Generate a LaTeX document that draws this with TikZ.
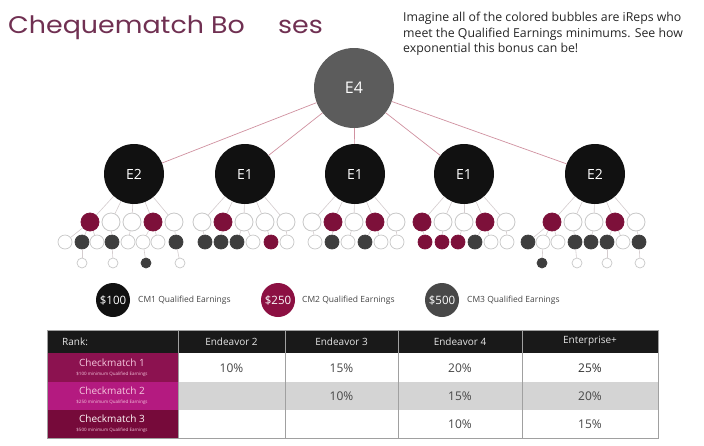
\documentclass[tikz,border=0pt]{standalone}
\usepackage{fontspec}
\setmainfont{Open Sans}
\newfontfamily\titlefont{Poppins}
\definecolor{mar}{RGB}{125,16,58}
\definecolor{dkg}{RGB}{62,62,62}
\definecolor{ink}{RGB}{17,17,17}
\definecolor{e4g}{RGB}{92,92,92}
\definecolor{ring}{RGB}{200,200,200}
\definecolor{lline}{RGB}{212,204,206}
\definecolor{pline}{RGB}{208,145,160}
\definecolor{titlec}{RGB}{112,48,82}
\definecolor{rk1}{RGB}{140,18,80}
\definecolor{rk2}{RGB}{180,26,128}
\definecolor{rk3}{RGB}{118,10,58}
\definecolor{rowg}{RGB}{212,212,212}
\definecolor{hdr}{RGB}{25,25,25}
\definecolor{tabline}{RGB}{160,160,160}
\definecolor{valc}{RGB}{70,70,70}
\definecolor{rktxt}{RGB}{245,200,222}
\definecolor{legm}{RGB}{140,16,66}
\definecolor{legg}{RGB}{72,72,72}
\tikzset{
  bigc/.style={circle, inner sep=0pt, minimum size=60pt, fill=ink, text=white, font=\fontsize{14}{16}\selectfont},
  topc/.style={circle, inner sep=0pt, minimum size=80pt, fill=e4g, text=white, font=\fontsize{16}{18}\selectfont},
  lb/.style={circle, inner sep=0pt, minimum size=18pt, line width=0.8pt},
  lc/.style={circle, inner sep=0pt, minimum size=14pt, line width=0.7pt},
  ld/.style={circle, inner sep=0pt, minimum size=10pt, line width=0.7pt},
  tl/.style={draw=lline, line width=0.6pt},
  pl/.style={draw=pline, line width=0.7pt},
  legc/.style={circle, inner sep=0pt, minimum size=34pt, text=white, font=\fontsize{11.5}{13}\selectfont},
  legt/.style={anchor=west, inner sep=0pt, text=valc, font=\fontsize{8.5}{10}\selectfont},
  hdrt/.style={text=white!90!black, inner sep=0pt, font=\fontsize{10}{12}\selectfont},
  valt/.style={text=valc, inner sep=0pt, font=\fontsize{12}{14}\selectfont},
  rkt/.style={text=rktxt, inner sep=0pt, font=\fontsize{10}{12}\selectfont},
  rks/.style={text=rktxt, inner sep=0pt, font=\fontsize{4.5}{5}\selectfont},
  ttl/.style={anchor=base west, inner sep=0pt, text=titlec, font=\titlefont\fontsize{24}{28}\selectfont},
}
\begin{document}
\begin{tikzpicture}[x=1pt,y=-1pt]
\useasboundingbox (0,0) rectangle (704,445);
\fill[white] (0,0) rectangle (704,445);
% title
\node[ttl] (title1) at (8,33) {\scalebox{1.12}[1]{Chequematch Bo}};
\node[ttl] (title2) at (278,33) {\scalebox{1.12}[1]{ses}};
\node[anchor=north west, inner sep=0pt, align=left, text=black!85, font=\fontsize{12.3}{15.5}\selectfont] (blurb) at (403,12)
  {Imagine all of the colored bubbles are iReps who\\meet the Qualified Earnings minimums. See how\\exponential this bonus can be!};
% top levels
\node[topc] (top) at (354,88) {E4};
\node[bigc] (ea) at (134,174) {E2};
\node[bigc] (eb) at (245,174) {E1};
\node[bigc] (ec) at (355,174) {E1};
\node[bigc] (ed) at (464,174) {E1};
\node[bigc] (ee) at (595,174) {E2};
\foreach \n in {ea,eb,ec,ed,ee} \draw[pl] (top) -- (\n);
% group 1
\foreach \x/\f/\d [count=\i] in {90/mar/mar,111/white/ring,132/white/ring,153/mar/mar,174/white/ring}
  {\node[lb, fill=\f, draw=\d] (ga\i) at (\x,222) {}; \draw[tl] (ea) -- (ga\i);}
\foreach \x/\f/\d/\p [count=\i] in {65/white/ring/1,82/dkg/dkg/1,97/white/ring/1,112/dkg/dkg/2,128/white/ring/3,143/white/ring/4,158/white/ring/4,176/dkg/dkg/5}
  {\node[lc, fill=\f, draw=\d] (gac\i) at (\x,242) {}; \draw[tl] (ga\p) -- (gac\i);}
\foreach \x/\f/\d/\p [count=\i] in {82/white/ring/2,113/white/ring/4,146/dkg/dkg/6,180/white/ring/8}
  {\node[ld, fill=\f, draw=\d] (gad\i) at (\x,263) {}; \draw[tl] (gac\p) -- (gad\i);}
% group 2
\foreach \x/\f/\d [count=\i] in {202/white/ring,223/mar/mar,244/white/ring,265/white/ring,286/white/ring}
  {\node[lb, fill=\f, draw=\d] (gb\i) at (\x,222) {}; \draw[tl] (eb) -- (gb\i);}
\foreach \x/\f/\d/\p [count=\i] in {205/dkg/dkg/1,221/dkg/dkg/2,237/dkg/dkg/3,253/white/ring/3,271/mar/mar/4,287/white/ring/5}
  {\node[lc, fill=\f, draw=\d] (gbc\i) at (\x,242) {}; \draw[tl] (gb\p) -- (gbc\i);}
% group 3
\foreach \x/\f/\d [count=\i] in {312/white/ring,333/mar/mar,354/white/ring,375/mar/mar,396/white/ring}
  {\node[lb, fill=\f, draw=\d] (gc\i) at (\x,222) {}; \draw[tl] (ec) -- (gc\i);}
\foreach \x/\f/\d/\p [count=\i] in {315/white/ring/1,332/dkg/dkg/2,348/white/ring/3,365/dkg/dkg/4,381/white/ring/4,397/white/ring/5}
  {\node[lc, fill=\f, draw=\d] (gcc\i) at (\x,242) {}; \draw[tl] (gc\p) -- (gcc\i);}
% group 4
\foreach \x/\f/\d [count=\i] in {422/mar/mar,443/white/ring,464/white/ring,485/mar/mar,506/white/ring}
  {\node[lb, fill=\f, draw=\d] (gd\i) at (\x,222) {}; \draw[tl] (ed) -- (gd\i);}
\foreach \x/\f/\d/\p [count=\i] in {425/mar/mar/1,442/mar/mar/2,458/mar/mar/3,475/dkg/dkg/4,491/white/ring/4,507/white/ring/5}
  {\node[lc, fill=\f, draw=\d] (gdc\i) at (\x,242) {}; \draw[tl] (gd\p) -- (gdc\i);}
% group 5
\foreach \x/\f/\d [count=\i] in {552/mar/mar,573/white/ring,594/white/ring,615/mar/mar,636/white/ring}
  {\node[lb, fill=\f, draw=\d] (ge\i) at (\x,222) {}; \draw[tl] (ee) -- (ge\i);}
\foreach \x/\f/\d/\p [count=\i] in {528/dkg/dkg/1,543/white/ring/1,558/white/ring/1,575/dkg/dkg/2,591/dkg/dkg/3,607/dkg/dkg/4,623/white/ring/4,639/dkg/dkg/5}
  {\node[lc, fill=\f, draw=\d] (gec\i) at (\x,242) {}; \draw[tl] (ge\p) -- (gec\i);}
\foreach \x/\f/\d/\p [count=\i] in {542/dkg/dkg/2,577/white/ring/4,607/white/ring/6,640/white/ring/8}
  {\node[ld, fill=\f, draw=\d] (ged\i) at (\x,263) {}; \draw[tl] (gec\p) -- (ged\i);}
% legend
\node[legc, fill=ink] (leg1) at (113,300) {\$100};
\node[legt] (legt1) at (138,300) {CM1 Qualified Earnings};
\node[legc, fill=legm] (leg2) at (278,300) {\$250};
\node[legt] (legt2) at (302,300) {CM2 Qualified Earnings};
\node[legc, fill=legg] (leg3) at (442,300) {\$500};
\node[legt] (legt3) at (467,300) {CM3 Qualified Earnings};
% table
\fill[hdr] (47,330) rectangle (658,353);
\fill[rk1] (47,353) rectangle (178,382);
\fill[rk2] (47,382) rectangle (178,410);
\fill[rk3] (47,410) rectangle (178,438);
\fill[rowg] (178,382) rectangle (658,410);
\draw[tabline, line width=0.8pt] (47,330) rectangle (658,438);
\foreach \xx in {178,285,398,522} \draw[tabline, line width=0.8pt] (\xx,330) -- (\xx,438);
\node[hdrt, anchor=west] (hrank) at (62,341.5) {Rank:};
\node[hdrt] (h1) at (231.5,341.5) {Endeavor 2};
\node[hdrt] (h2) at (341.5,341.5) {Endeavor 3};
\node[hdrt] (h3) at (460,341.5) {Endeavor 4};
\node[hdrt] (h4) at (590,341.5) {Enterprise+};
\node[rkt] (r1a) at (112,363) {Checkmatch 1};
\node[rks] (r1b) at (112,374) {\$100 minimum Qualified Earnings};
\node[rkt] (r2a) at (112,391) {Checkmatch 2};
\node[rks] (r2b) at (112,402) {\$250 minimum Qualified Earnings};
\node[rkt, text=white!90!pink] (r3a) at (112,419) {Checkmatch 3};
\node[rks] (r3b) at (112,430) {\$500 minimum Qualified Earnings};
\node[valt] (v11) at (231.5,368) {10\%};
\node[valt] (v12) at (341.5,368) {15\%};
\node[valt] (v13) at (460,368) {20\%};
\node[valt, text=black!80] (v14) at (590,368) {25\%};
\node[valt] (v22) at (341.5,396) {10\%};
\node[valt] (v23) at (460,396) {15\%};
\node[valt] (v24) at (590,396) {20\%};
\node[valt] (v33) at (460,424) {10\%};
\node[valt] (v34) at (590,424) {15\%};
\end{tikzpicture}
\end{document}
